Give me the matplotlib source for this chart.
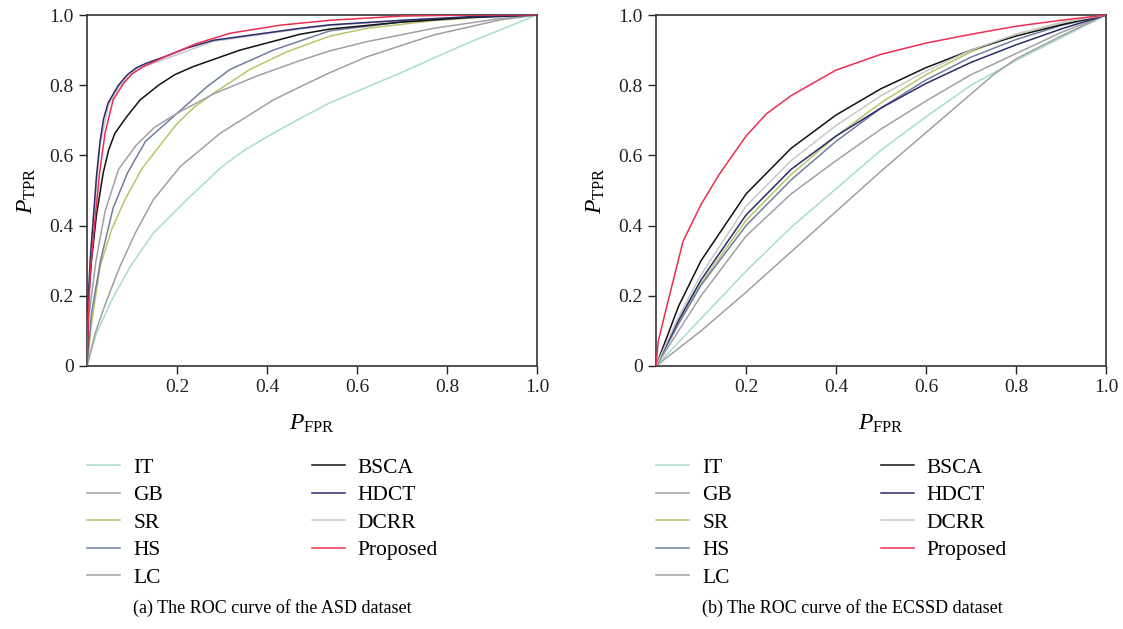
import matplotlib
matplotlib.use("Agg")
import matplotlib.pyplot as plt

plt.rcParams["font.family"] = ["Liberation Serif", "DejaVu Serif"]
plt.rcParams["mathtext.fontset"] = "custom"
plt.rcParams["mathtext.rm"] = "Liberation Serif"
plt.rcParams["mathtext.it"] = "Liberation Serif:italic"

# ---- ASD dataset ----
asd_it_x = [0, 0.021, 0.055, 0.096, 0.147, 0.221, 0.30, 0.35, 0.414, 0.473, 0.54, 0.695, 0.844, 1.0]
asd_it_y = [0, 0.093, 0.188, 0.283, 0.378, 0.473, 0.568, 0.615, 0.663, 0.705, 0.75, 0.834, 0.919, 1.0]
asd_gb_x = [0, 0.018, 0.044, 0.073, 0.107, 0.147, 0.207, 0.296, 0.414, 0.473, 0.54, 0.622, 0.77, 0.918, 1.0]
asd_gb_y = [0, 0.093, 0.188, 0.283, 0.378, 0.473, 0.568, 0.663, 0.758, 0.795, 0.836, 0.881, 0.943, 0.986, 1.0]
asd_sr_x = [0, 0.01, 0.029, 0.055, 0.084, 0.121, 0.166, 0.2, 0.236, 0.281, 0.362, 0.444, 0.54, 0.622, 0.77, 0.9, 1.0]
asd_sr_y = [0, 0.12, 0.283, 0.39, 0.473, 0.56, 0.635, 0.69, 0.735, 0.777, 0.845, 0.895, 0.94, 0.962, 0.984, 0.995, 1.0]
asd_hs_x = [0, 0.01, 0.03, 0.058, 0.09, 0.13, 0.196, 0.266, 0.318, 0.414, 0.54, 0.7, 0.85, 1.0]
asd_hs_y = [0, 0.15, 0.30, 0.45, 0.55, 0.64, 0.715, 0.795, 0.845, 0.9, 0.955, 0.98, 0.993, 1.0]
asd_lc_x = [0, 0.005, 0.02, 0.04, 0.07, 0.11, 0.15, 0.196, 0.281, 0.377, 0.473, 0.54, 0.622, 0.77, 0.918, 1.0]
asd_lc_y = [0, 0.15, 0.3, 0.44, 0.56, 0.63, 0.68, 0.717, 0.775, 0.826, 0.87, 0.898, 0.924, 0.962, 0.99, 1.0]
asd_bsca_x = [0, 0.004, 0.01, 0.021, 0.036, 0.048, 0.062, 0.088, 0.118, 0.159, 0.195, 0.236, 0.34, 0.473, 0.54, 0.7, 0.85, 1.0]
asd_bsca_y = [0, 0.2, 0.3, 0.43, 0.55, 0.615, 0.663, 0.71, 0.758, 0.8, 0.83, 0.853, 0.9, 0.945, 0.96, 0.98, 0.993, 1.0]
asd_hdct_x = [0, 0.003, 0.008, 0.014, 0.021, 0.029, 0.037, 0.047, 0.07, 0.09, 0.11, 0.135, 0.17, 0.22, 0.281, 0.473, 0.54, 0.7, 0.85, 1.0]
asd_hdct_y = [0, 0.2, 0.32, 0.42, 0.54, 0.64, 0.705, 0.75, 0.8, 0.83, 0.85, 0.864, 0.88, 0.905, 0.928, 0.962, 0.972, 0.985, 0.995, 1.0]
asd_dcrr_x = [0, 0.003, 0.008, 0.014, 0.029, 0.047, 0.07, 0.11, 0.17, 0.281, 0.473, 0.54, 0.7, 0.85, 1.0]
asd_dcrr_y = [0, 0.19, 0.31, 0.41, 0.63, 0.74, 0.795, 0.845, 0.873, 0.925, 0.96, 0.97, 0.984, 0.995, 1.0]
asd_prop_x = [0, 0.003, 0.008, 0.018, 0.028, 0.04, 0.058, 0.081, 0.1, 0.125, 0.17, 0.244, 0.318, 0.429, 0.54, 0.7, 0.85, 1.0]
asd_prop_y = [0, 0.15, 0.28, 0.42, 0.55, 0.663, 0.758, 0.805, 0.832, 0.853, 0.879, 0.919, 0.948, 0.971, 0.985, 0.997, 1.0, 1.0]

# ---- ECSSD dataset ----
ec_x = [0, 0.05, 0.1, 0.2, 0.3, 0.4, 0.5, 0.6, 0.7, 0.8, 0.9, 1.0]
ec_it_x = [0, 0.1, 0.2, 0.3, 0.4, 0.5, 0.6, 0.7, 0.8, 0.9, 1.0]
ec_it_y = [0, 0.135, 0.27, 0.395, 0.505, 0.615, 0.71, 0.8, 0.87, 0.935, 1.0]
ec_gb_x = [0, 0.1, 0.2, 0.3, 0.4, 0.5, 0.6, 0.7, 0.75, 0.8, 0.9, 1.0]
ec_gb_y = [0, 0.1, 0.21, 0.325, 0.44, 0.555, 0.665, 0.775, 0.83, 0.875, 0.94, 1.0]
ec_sr_y = [0, 0.125, 0.235, 0.415, 0.545, 0.655, 0.75, 0.83, 0.895, 0.945, 0.978, 1.0]
ec_hs_y = [0, 0.12, 0.23, 0.40, 0.53, 0.64, 0.735, 0.815, 0.88, 0.93, 0.97, 1.0]
ec_lc_y = [0, 0.1, 0.2, 0.37, 0.49, 0.585, 0.675, 0.755, 0.83, 0.89, 0.95, 1.0]
ec_bsca_y = [0, 0.17, 0.3, 0.49, 0.62, 0.715, 0.79, 0.85, 0.9, 0.94, 0.972, 1.0]
ec_hdct_y = [0, 0.13, 0.245, 0.43, 0.56, 0.655, 0.735, 0.805, 0.865, 0.915, 0.96, 1.0]
ec_dcrr_y = [0, 0.14, 0.26, 0.455, 0.585, 0.685, 0.77, 0.84, 0.9, 0.945, 0.978, 1.0]
ec_prop_x = [0, 0.005, 0.02, 0.06, 0.1, 0.14, 0.2, 0.245, 0.3, 0.4, 0.5, 0.6, 0.7, 0.8, 0.9, 1.0]
ec_prop_y = [0, 0.07, 0.15, 0.355, 0.46, 0.545, 0.655, 0.718, 0.77, 0.843, 0.888, 0.92, 0.945, 0.968, 0.985, 1.0]

names = ["IT", "GB", "SR", "HS", "LC", "BSCA", "HDCT", "DCRR", "Proposed"]
colors = ["#a8dcd1", "#a0a0a0", "#b9c56a", "#6f7f9f", "#a49ea6",
          "#111111", "#2b2a6b", "#c8c8c8", "#ec2e52"]

asd = [(asd_it_x, asd_it_y), (asd_gb_x, asd_gb_y), (asd_sr_x, asd_sr_y),
       (asd_hs_x, asd_hs_y), (asd_lc_x, asd_lc_y), (asd_bsca_x, asd_bsca_y),
       (asd_hdct_x, asd_hdct_y), (asd_dcrr_x, asd_dcrr_y), (asd_prop_x, asd_prop_y)]
ecssd = [(ec_it_x, ec_it_y), (ec_gb_x, ec_gb_y), (ec_x, ec_sr_y), (ec_x, ec_hs_y),
         (ec_x, ec_lc_y), (ec_x, ec_bsca_y), (ec_x, ec_hdct_y), (ec_x, ec_dcrr_y),
         (ec_prop_x, ec_prop_y)]

fig = plt.figure(figsize=(11.23, 6.29), dpi=100)
W, H = 1123, 629


def make_axes(left_px, data, caption, dcrr_under):
    ax = fig.add_axes([left_px / W, 1 - 366 / H, 450 / W, 351 / H])
    for i, ((x, y), name, c) in enumerate(zip(data, names, colors)):
        z = 1.5 if (name == "DCRR" and dcrr_under) else 2 + i * 0.1
        ax.plot(x, y, color=c, lw=1.1, label=name, zorder=z)
    ax.set_xlim(0, 1)
    ax.set_ylim(0, 1)
    ax.set_xticks([0.2, 0.4, 0.6, 0.8, 1.0])
    ax.set_xticklabels(["0.2", "0.4", "0.6", "0.8", "1.0"])
    ax.set_yticks([0, 0.2, 0.4, 0.6, 0.8, 1.0])
    ax.set_yticklabels(["0", "0.2", "0.4", "0.6", "0.8", "1.0"])
    ax.tick_params(direction="out", length=6, width=1.0, labelsize=14, colors="#222222")
    for s in ax.spines.values():
        s.set_color("#333333")
        s.set_linewidth(1.2)
    ax.set_xlabel(r"$P_{\mathrm{FPR}}$", fontsize=17, labelpad=12)
    ax.set_ylabel(r"$P_{\mathrm{TPR}}$", fontsize=17, labelpad=8)
    ax.legend(loc="upper left", bbox_to_anchor=(0.0, -0.262),
              ncol=2, frameon=False, fontsize=15.5, handlelength=1.55,
              handletextpad=0.6, columnspacing=6.9, labelspacing=0.34,
              borderaxespad=0, borderpad=0)
    fig.text((left_px + 46) / W, 1 - 608 / H, caption, fontsize=13,
             ha="left", va="center")
    return ax


make_axes(87, asd, "(a) The ROC curve of the ASD dataset", True)
make_axes(656, ecssd, "(b) The ROC curve of the ECSSD dataset", False)

fig.savefig("out.png", dpi=100)
